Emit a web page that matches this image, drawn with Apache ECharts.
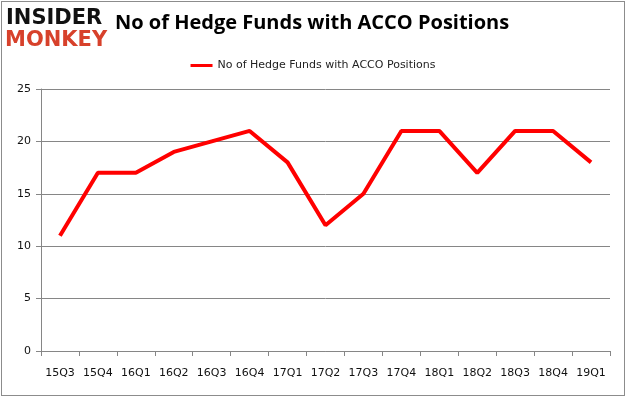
<!DOCTYPE html>
<html>
<head>
<meta charset="utf-8">
<script src="https://cdn.jsdelivr.net/npm/echarts@6/dist/echarts.min.js"></script>
<style>
  html, body { margin: 0; padding: 0; background: #fff; }
  #wrap { position: relative; width: 626px; height: 397px; }
  #frame { position: absolute; left: 1px; top: 1px; width: 622px; height: 393px; border: 1px solid #8c8c8c; }
  #chart { position: absolute; left: 0; top: 0; width: 626px; height: 397px; }
</style>
</head>
<body>
<div id="wrap">
  <div id="frame"></div>
  <div id="chart"></div>
</div>
<script>
const quarters = [ '15Q3', '15Q4', '16Q1', '16Q2', '16Q3', '16Q4', '17Q1', '17Q2', '17Q3', '17Q4', '18Q1', '18Q2', '18Q3', '18Q4', '19Q1' ];
const fundCounts = [ 11, 17, 17, 19, 20, 21, 18, 12, 15, 21, 21, 17, 21, 21, 18 ];
const yTicks = [ 0, 5, 10, 15, 20, 25 ];

const chart = echarts.init( document.getElementById( 'chart' ), null, { renderer: 'canvas' } );

chart.setOption( {
	animation: false,
	graphic: [
		{
			type: 'text', left: 6, top: 8,
			style: { text: 'INSIDER', fill: '#111', font: 'bold 21px "DejaVu Sans", sans-serif' }
		},
		{
			type: 'text', left: 5, top: 30,
			style: { text: 'MONKEY', fill: '#d7412b', font: 'bold 21px "DejaVu Sans", sans-serif' }
		},
		{
			type: 'text', left: 115, top: 13,
			style: { text: 'No of Hedge Funds with ACCO Positions', fill: '#000', font: 'bold 20px "Open Sans", sans-serif' }
		}
	],
	legend: {
		top: 55,
		left: 'center',
		data: [ 'No of Hedge Funds with ACCO Positions' ],
		itemWidth: 22,
		itemHeight: 3,
		icon: 'rect',
		textStyle: { fontSize: 11, color: '#222', fontFamily: 'DejaVu Sans, sans-serif' }
	},
	grid: { left: 41, right: 16, top: 89, bottom: 46 },
	xAxis: {
		type: 'category',
		data: quarters,
		boundaryGap: true,
		axisLine: { lineStyle: { color: '#868686' } },
		axisTick: { show: true, length: 5, interval: 0, lineStyle: { color: '#868686' } },
		axisLabel: { interval: 0, margin: 17, color: '#111', fontSize: 11, fontFamily: 'DejaVu Sans, sans-serif' }
	},
	yAxis: {
		type: 'value',
		min: yTicks[ 0 ],
		max: yTicks[ yTicks.length - 1 ],
		interval: 5,
		axisLine: { show: true, lineStyle: { color: '#868686' } },
		axisTick: { show: true, length: 5, lineStyle: { color: '#868686' } },
		splitLine: { lineStyle: { color: '#868686' } },
		axisLabel: { margin: 10, color: '#111', fontSize: 11, fontFamily: 'DejaVu Sans, sans-serif' }
	},
	series: [ {
		name: 'No of Hedge Funds with ACCO Positions',
		type: 'line',
		data: fundCounts,
		symbol: 'none',
		lineStyle: { color: '#ff0000', width: 4 },
		itemStyle: { color: '#ff0000' }
	} ]
} );
</script>
</body>
</html>
